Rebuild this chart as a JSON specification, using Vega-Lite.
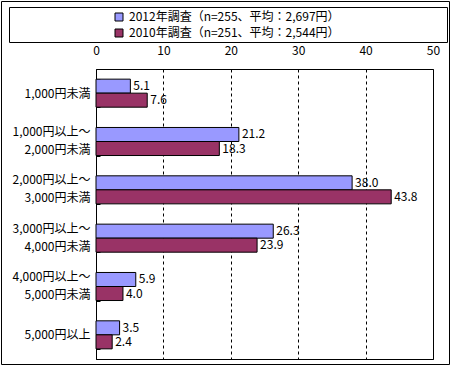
{
  "$schema": "https://vega.github.io/schema/vega-lite/v6.json",
  "padding": 0,
  "background": "white",
  "config": {
    "font": "Noto Sans CJK JP",
    "view": {"stroke": null},
    "legend": {
      "orient": "none",
      "legendX": 112,
      "legendY": 10,
      "title": null,
      "symbolType": "square",
      "symbolSize": 64,
      "symbolStrokeColor": "black",
      "symbolStrokeWidth": 1,
      "labelFontSize": 12,
      "labelColor": "black",
      "labelLimit": 400,
      "rowPadding": 4,
      "labelOffset": 4,
      "padding": 0,
      "direction": "vertical"
    }
  },
  "columns": 1,
  "align": "none",
  "spacing": {"row": -359, "column": 0},
  "concat": [
    {
      "width": 448,
      "height": 363,
      "view": {"stroke": "black", "strokeWidth": 1},
      "data": {"values": []},
      "mark": {"type": "text"},
      "encoding": {}
    },
    {
      "spacing": 6,
      "hconcat": [
        {
          "width": 1,
          "height": 1,
          "data": {"values": []},
          "mark": {"type": "text"},
          "encoding": {}
        },
        {
          "spacing": 0,
          "vconcat": [
            {
              "width": 438,
              "height": 35,
              "view": {"stroke": "black", "strokeWidth": 1},
              "data": {"values": []},
              "mark": {"type": "text"},
              "encoding": {}
            },
            {
              "spacing": 1,
              "hconcat": [
                {
                  "width": 1,
                  "height": 1,
                  "data": {"values": []},
                  "mark": {"type": "text"},
                  "encoding": {}
                },
                {
                  "width": 337,
                  "height": 290,
                  "view": {"stroke": "black", "strokeWidth": 1},
                  "data": {
                    "values": [
                      {"category": "1,000円未満", "series": "2012年調査（n=255、平均：2,697円）", "value": 5.1},
                      {"category": "1,000円未満", "series": "2010年調査（n=251、平均：2,544円）", "value": 7.6},
                      {"category": "1,000円以上～\n2,000円未満", "series": "2012年調査（n=255、平均：2,697円）", "value": 21.2},
                      {"category": "1,000円以上～\n2,000円未満", "series": "2010年調査（n=251、平均：2,544円）", "value": 18.3},
                      {"category": "2,000円以上～\n3,000円未満", "series": "2012年調査（n=255、平均：2,697円）", "value": 38.0},
                      {"category": "2,000円以上～\n3,000円未満", "series": "2010年調査（n=251、平均：2,544円）", "value": 43.8},
                      {"category": "3,000円以上～\n4,000円未満", "series": "2012年調査（n=255、平均：2,697円）", "value": 26.3},
                      {"category": "3,000円以上～\n4,000円未満", "series": "2010年調査（n=251、平均：2,544円）", "value": 23.9},
                      {"category": "4,000円以上～\n5,000円未満", "series": "2012年調査（n=255、平均：2,697円）", "value": 5.9},
                      {"category": "4,000円以上～\n5,000円未満", "series": "2010年調査（n=251、平均：2,544円）", "value": 4.0},
                      {"category": "5,000円以上", "series": "2012年調査（n=255、平均：2,697円）", "value": 3.5},
                      {"category": "5,000円以上", "series": "2010年調査（n=251、平均：2,544円）", "value": 2.4}
                    ]
                  },
                  "encoding": {
                    "y": {
                      "field": "category",
                      "type": "nominal",
                      "sort": null,
                      "scale": {"paddingInner": 0.42, "paddingOuter": 0.21},
                      "axis": {
                        "title": null,
                        "labelExpr": "split(datum.label, '\\n')",
                        "labelFontSize": 12,
                        "labelLineHeight": 18,
                        "labelColor": "black",
                        "labelBaseline": {"condition": {"test": "length(split(datum.label, '\\n')) > 1", "value": "line-bottom"}, "value": "middle"},
                        "tickBand": "extent",
                        "tickSize": -4,
                        "tickColor": "black",
                        "domainColor": "black",
                        "labelPadding": 10,
                        "grid": false
                      }
                    },
                    "yOffset": {
                      "field": "series",
                      "type": "nominal",
                      "sort": ["2012年調査（n=255、平均：2,697円）", "2010年調査（n=251、平均：2,544円）"],
                      "scale": {"paddingInner": 0, "paddingOuter": 0}
                    },
                    "x": {
                      "field": "value",
                      "type": "quantitative",
                      "scale": {"domain": [0, 50], "nice": false},
                      "axis": {
                        "orient": "top",
                        "title": null,
                        "values": [0, 10, 20, 30, 40, 50],
                        "ticks": false,
                        "domain": false,
                        "grid": true,
                        "gridColor": "black",
                        "gridOpacity": 1,
                        "gridDash": [3, 3],
                        "labelFontSize": 12,
                        "labelColor": "black",
                        "labelPadding": 12,
                        "labelFlush": false
                      }
                    }
                  },
                  "layer": [
                    {
                      "mark": {"type": "bar", "stroke": "black", "strokeWidth": 1},
                      "encoding": {
                        "color": {
                          "field": "series",
                          "type": "nominal",
                          "scale": {
                            "domain": ["2012年調査（n=255、平均：2,697円）", "2010年調査（n=251、平均：2,544円）"],
                            "range": ["#9999FF", "#993366"]
                          }
                        }
                      }
                    },
                    {
                      "mark": {"type": "text", "align": "left", "dx": 3, "fontSize": 12, "color": "black"},
                      "encoding": {
                        "text": {"field": "value", "type": "quantitative", "format": ".1f"}
                      }
                    }
                  ]
                }
              ]
            }
          ]
        }
      ]
    }
  ]
}
